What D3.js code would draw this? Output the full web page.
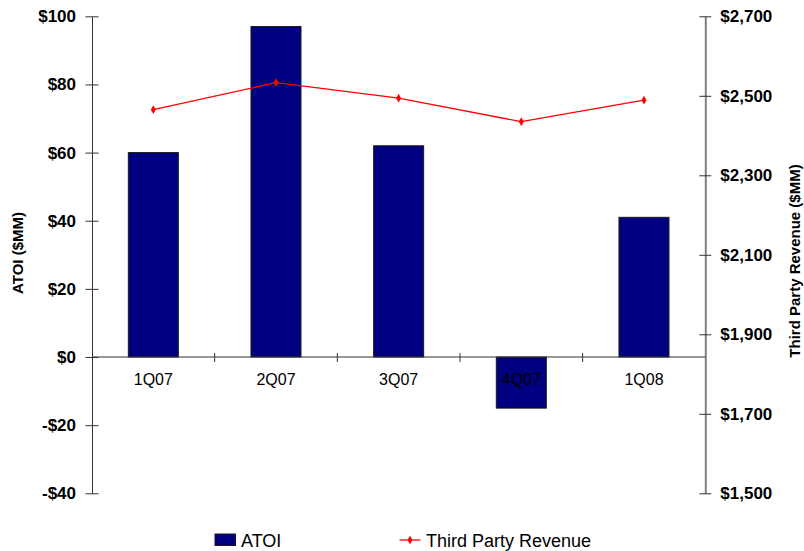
<!DOCTYPE html>
<html>
<head>
<meta charset="utf-8">
<script src="https://cdn.jsdelivr.net/npm/d3@7/dist/d3.min.js"></script>
<style>
  html, body { margin: 0; padding: 0; background: #fff; }
  svg { display: block; font-family: "Liberation Sans", Arial, sans-serif; }
</style>
</head>
<body>
<svg id="chart" width="804" height="551"></svg>
<script>
// Quarterly data
const quarters = ["1Q07", "2Q07", "3Q07", "4Q07", "1Q08"];
const atoi = [60, 97, 62, -15, 41];                 // $MM, left axis
const revenue = [2465, 2533, 2494, 2435, 2489];     // $MM, right axis
const leftTicks = [-40, -20, 0, 20, 40, 60, 80, 100];
const rightTicks = [1500, 1700, 1900, 2100, 2300, 2500, 2700];

const svg = d3.select("#chart");
const plotLeft = 92, plotRight = 705.3, plotTop = 16.3, plotBottom = 493.3;

const xBand = d3.scaleBand().domain(quarters).range([plotLeft, plotRight]);
const yL = d3.scaleLinear().domain([-40, 100]).range([plotBottom, plotTop]);
const yR = d3.scaleLinear().domain([1500, 2700]).range([plotBottom, plotTop]);
const cx = q => xBand(q) + xBand.bandwidth() / 2;

const fmtL = v => (v < 0 ? "-$" : "$") + Math.abs(v);
const fmtR = v => "$" + d3.format(",")(v);

// Bars
svg.append("g").selectAll("rect").data(atoi).join("rect")
  .attr("x", (d, i) => cx(quarters[i]) - 25)
  .attr("width", 50)
  .attr("y", d => yL(Math.max(0, d)))
  .attr("height", d => Math.abs(yL(d) - yL(0)))
  .attr("fill", "#000080")
  .attr("stroke", "#1a1a1a")
  .attr("stroke-width", 1);

// Left axis
const gL = svg.append("g").attr("transform", `translate(${plotLeft},0)`)
  .call(d3.axisLeft(yL).tickValues(leftTicks).tickFormat(fmtL).tickSizeInner(6.5).tickSizeOuter(0));
gL.select(".domain").attr("stroke", "#333");
gL.selectAll(".tick line").attr("stroke", "#333").attr("x2", 6.5).attr("x1", -6.5);
gL.selectAll(".tick text").attr("x", -16).attr("font-size", 17).attr("font-weight", "bold")
  .attr("fill", "#000").attr("font-family", "Liberation Sans, Arial, sans-serif");

// Right axis
const gR = svg.append("g").attr("transform", `translate(${plotRight},0)`)
  .call(d3.axisRight(yR).tickValues(rightTicks).tickFormat(fmtR).tickSizeInner(6).tickSizeOuter(0));
gR.select(".domain").attr("stroke", "#808080").attr("stroke-width", 2);
gR.selectAll(".tick line").attr("stroke", "#333").attr("x1", -6).attr("x2", 6);
gR.selectAll(".tick text").attr("x", 15).attr("font-size", 17).attr("font-weight", "bold")
  .attr("fill", "#000").attr("font-family", "Liberation Sans, Arial, sans-serif");

// Category axis at zero
const boundaries = quarters.slice(1).map(q => xBand(q));
const gX = svg.append("g");
gX.append("line").attr("x1", plotLeft).attr("x2", plotRight).attr("y1", yL(0)).attr("y2", yL(0))
  .attr("stroke", "#333").attr("stroke-width", 1);
gX.selectAll("line.tk").data(boundaries).join("line").attr("class", "tk")
  .attr("x1", d => d).attr("x2", d => d)
  .attr("y1", yL(0) - 4).attr("y2", yL(0) + 5)
  .attr("stroke", "#333");
gX.selectAll("text").data(quarters).join("text")
  .attr("x", d => cx(d))
  .attr("y", yL(0) + 28)
  .attr("text-anchor", "middle")
  .attr("font-size", 16)
  .attr("fill", "#000")
  .text(d => d);

// Revenue line
const line = d3.line()
  .x((d, i) => cx(quarters[i]))
  .y(d => yR(d));
svg.append("path").datum(revenue)
  .attr("d", line).attr("fill", "none").attr("stroke", "#ff0000").attr("stroke-width", 1.3);
svg.append("g").selectAll("path").data(revenue).join("path")
  .attr("transform", (d, i) => `translate(${cx(quarters[i])},${yR(d)})`)
  .attr("d", d3.symbol(d3.symbolDiamond, 22))
  .attr("fill", "#ff0000");

// Axis titles
svg.append("text")
  .attr("transform", "translate(23,253) rotate(-90)")
  .attr("text-anchor", "middle").attr("font-size", 15).attr("font-weight", "bold")
  .text("ATOI ($MM)");
svg.append("text")
  .attr("transform", "translate(800,261) rotate(-90)")
  .attr("text-anchor", "middle").attr("font-size", 15).attr("font-weight", "bold")
  .text("Third Party Revenue ($MM)");

// Legend
const lg = svg.append("g");
lg.append("rect").attr("x", 215).attr("y", 534).attr("width", 20.5).attr("height", 11.5)
  .attr("fill", "#000080").attr("stroke", "#1a1a1a").attr("stroke-width", 1);
lg.append("text").attr("x", 241).attr("y", 547).attr("font-size", 18).text("ATOI");
lg.append("line").attr("x1", 399.5).attr("x2", 420.5).attr("y1", 540).attr("y2", 540)
  .attr("stroke", "#ff0000").attr("stroke-width", 1.3);
lg.append("path").attr("transform", "translate(410,540)")
  .attr("d", d3.symbol(d3.symbolDiamond, 22)).attr("fill", "#ff0000");
lg.append("text").attr("x", 426).attr("y", 547).attr("font-size", 18).text("Third Party Revenue");
</script>
</body>
</html>
